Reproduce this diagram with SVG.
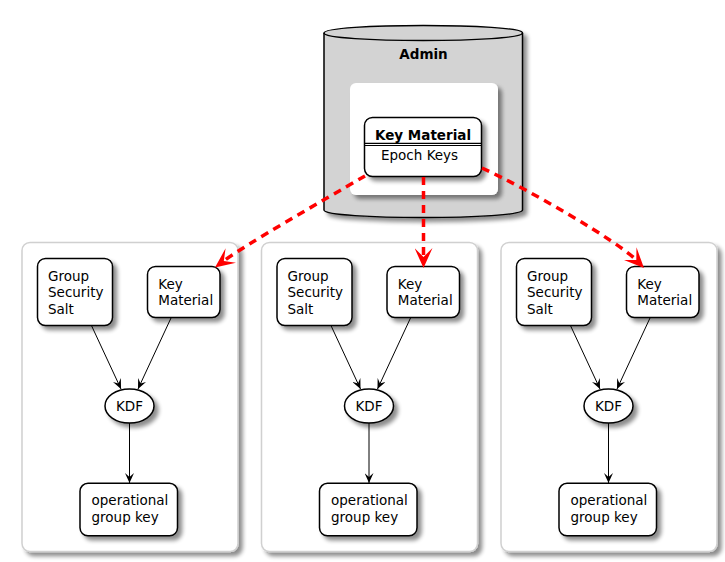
<svg xmlns="http://www.w3.org/2000/svg" width="725" height="562" viewBox="0 0 725 562">
<defs>
<filter id="sh" x="-20%" y="-20%" width="150%" height="150%">
<feGaussianBlur in="SourceAlpha" stdDeviation="2" result="b"/>
<feOffset in="b" dx="4" dy="4" result="o"/>
<feComponentTransfer in="o" result="s"><feFuncA type="linear" slope="0.45"/></feComponentTransfer>
<feMerge><feMergeNode in="s"/><feMergeNode in="SourceGraphic"/></feMerge>
</filter>
<marker id="ah" viewBox="0 0 10 9" refX="10" refY="4.5" markerWidth="10" markerHeight="9" markerUnits="userSpaceOnUse" orient="auto">
<path d="M0,0 L10,4.5 L0,9 L4,4.5 Z" fill="#000"/>
</marker>
<marker id="rah" viewBox="0 0 20 18" refX="9" refY="9" markerWidth="20" markerHeight="18" markerUnits="userSpaceOnUse" orient="auto">
<path d="M0,0 L20,9 L0,18 L9,9 Z" fill="#ff0000"/>
</marker>
</defs>
<style>
text{font-family:"DejaVu Sans","Noto Sans",sans-serif;font-size:13.5px;fill:#000}
.b{font-weight:bold}
.node{fill:#fff;stroke:#000;stroke-width:1.5}
.clu{fill:#fff;stroke:#d0d0d0;stroke-width:1.5}
.e{fill:none;stroke:#000;stroke-width:1}
.r{fill:none;stroke:#ff0000;stroke-width:3.5;stroke-dasharray:8,6}
</style>
<rect width="725" height="562" fill="#fff"/>

<g id="admin">
<path filter="url(#sh)" d="M324,33 C324,23 522.5,23 522.5,33 L522.5,210 C522.5,220 324,220 324,210 Z" fill="#d3d3d3" stroke="#000" stroke-width="1.5"/>
<path d="M324,33 C324,43 522.5,43 522.5,33" fill="none" stroke="#000" stroke-width="1.5"/>
<text class="b" x="423.5" y="58.5" text-anchor="middle">Admin</text>
<rect filter="url(#sh)" x="350" y="83" width="148" height="112" rx="6" fill="#fff"/>
</g>
<g id="keymaterial">
<rect class="node" filter="url(#sh)" x="364.5" y="117.5" width="117" height="59" rx="8"/>
<text class="b" x="423" y="139.5" text-anchor="middle">Key Material</text>
<line x1="364.5" y1="143.3" x2="481.5" y2="143.3" stroke="#000" stroke-width="1.2"/>
<line x1="364.5" y1="145.5" x2="481.5" y2="145.5" stroke="#000" stroke-width="1.2"/>
<text x="381" y="159.5">Epoch Keys</text>
</g>

<g id="cluster1">
<rect class="clu" filter="url(#sh)" x="22" y="242.5" width="216" height="309" rx="8"/>
<g id="c1-salt"><rect class="node" filter="url(#sh)" x="37.5" y="258.5" width="75" height="67" rx="8"/>
<text x="48" y="281">Group</text><text x="48" y="297.3">Security</text><text x="48" y="313.6">Salt</text></g>
<g id="c1-km"><rect class="node" filter="url(#sh)" x="147.5" y="266.5" width="72.5" height="51" rx="8"/>
<text x="158.3" y="289">Key</text><text x="158.3" y="305.3">Material</text></g>
<g id="c1-kdf"><ellipse class="node" filter="url(#sh)" cx="129.5" cy="406" rx="24.5" ry="17"/>
<text x="129.5" y="410.8" text-anchor="middle">KDF</text></g>
<g id="c1-op"><rect class="node" filter="url(#sh)" x="80" y="483.3" width="97.5" height="52.5" rx="8"/>
<text x="91.5" y="505.4">operational</text><text x="91.5" y="521.7">group key</text></g>
</g>

<g id="cluster2" transform="translate(239.5,0)">
<rect class="clu" filter="url(#sh)" x="22" y="242.5" width="216" height="309" rx="8"/>
<g id="c2-salt"><rect class="node" filter="url(#sh)" x="37.5" y="258.5" width="75" height="67" rx="8"/>
<text x="48" y="281">Group</text><text x="48" y="297.3">Security</text><text x="48" y="313.6">Salt</text></g>
<g id="c2-km"><rect class="node" filter="url(#sh)" x="147.5" y="266.5" width="72.5" height="51" rx="8"/>
<text x="158.3" y="289">Key</text><text x="158.3" y="305.3">Material</text></g>
<g id="c2-kdf"><ellipse class="node" filter="url(#sh)" cx="129.5" cy="406" rx="24.5" ry="17"/>
<text x="129.5" y="410.8" text-anchor="middle">KDF</text></g>
<g id="c2-op"><rect class="node" filter="url(#sh)" x="80" y="483.3" width="97.5" height="52.5" rx="8"/>
<text x="91.5" y="505.4">operational</text><text x="91.5" y="521.7">group key</text></g>
</g>

<g id="cluster3" transform="translate(479,0)">
<rect class="clu" filter="url(#sh)" x="22" y="242.5" width="216" height="309" rx="8"/>
<g id="c3-salt"><rect class="node" filter="url(#sh)" x="37.5" y="258.5" width="75" height="67" rx="8"/>
<text x="48" y="281">Group</text><text x="48" y="297.3">Security</text><text x="48" y="313.6">Salt</text></g>
<g id="c3-km"><rect class="node" filter="url(#sh)" x="147.5" y="266.5" width="72.5" height="51" rx="8"/>
<text x="158.3" y="289">Key</text><text x="158.3" y="305.3">Material</text></g>
<g id="c3-kdf"><ellipse class="node" filter="url(#sh)" cx="129.5" cy="406" rx="24.5" ry="17"/>
<text x="129.5" y="410.8" text-anchor="middle">KDF</text></g>
<g id="c3-op"><rect class="node" filter="url(#sh)" x="80" y="483.3" width="97.5" height="52.5" rx="8"/>
<text x="91.5" y="505.4">operational</text><text x="91.5" y="521.7">group key</text></g>
</g>

<g id="connectors">
<g id="c1-edges">
<line class="e" x1="91.7" y1="326" x2="121" y2="389" marker-end="url(#ah)"/>
<line class="e" x1="171" y1="318" x2="138" y2="389" marker-end="url(#ah)"/>
<line class="e" x1="129.5" y1="423" x2="129.5" y2="483" marker-end="url(#ah)"/>
</g>
<g id="c2-edges" transform="translate(239.5,0)">
<line class="e" x1="91.7" y1="326" x2="121" y2="389" marker-end="url(#ah)"/>
<line class="e" x1="171" y1="318" x2="138" y2="389" marker-end="url(#ah)"/>
<line class="e" x1="129.5" y1="423" x2="129.5" y2="483" marker-end="url(#ah)"/>
</g>
<g id="c3-edges" transform="translate(479,0)">
<line class="e" x1="91.7" y1="326" x2="121" y2="389" marker-end="url(#ah)"/>
<line class="e" x1="171" y1="318" x2="138" y2="389" marker-end="url(#ah)"/>
<line class="e" x1="129.5" y1="423" x2="129.5" y2="483" marker-end="url(#ah)"/>
</g>
<path class="r" d="M365,176 C320,202 243.8,245.9 223.8,260.9" marker-end="url(#rah)"/>
<path class="r" d="M423.5,177 L423.5,257" marker-end="url(#rah)"/>
<path class="r" d="M482,168 C530,190 618.9,242.2 636.3,260.1" marker-end="url(#rah)"/>
</g>
</svg>
